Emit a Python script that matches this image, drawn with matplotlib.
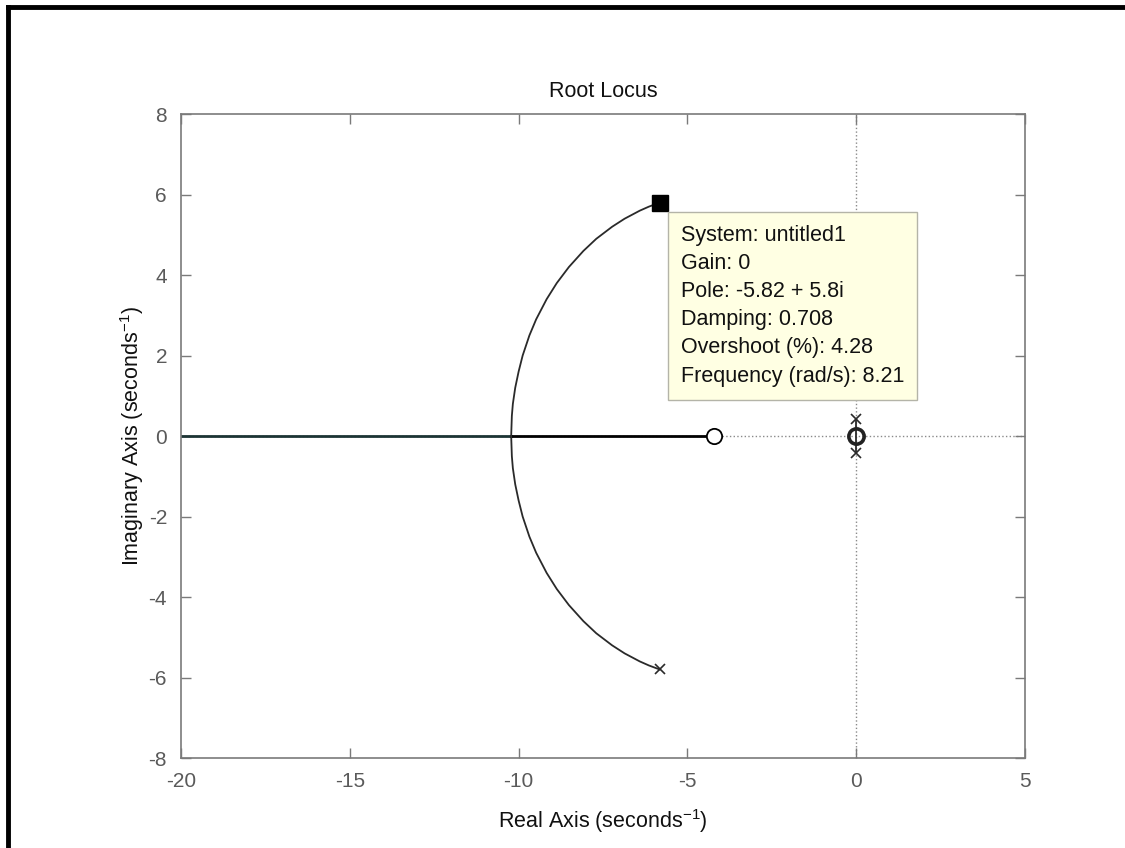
import numpy as np
import matplotlib
matplotlib.use("Agg")
from matplotlib import pyplot as plt
from matplotlib.lines import Line2D

plt.rcParams['font.family'] = ['Liberation Sans', 'DejaVu Sans']
plt.rcParams['mathtext.fontset'] = 'custom'
plt.rcParams['mathtext.rm'] = 'Liberation Sans'
plt.rcParams['mathtext.default'] = 'regular'
plt.rcParams['axes.unicode_minus'] = False

# Upper branch of the complex locus (real, imag)
arcRe = [-5.82, -6.14, -6.41, -6.86, -7.23, -7.70, -8.08, -8.51, -8.87,
         -9.17, -9.48, -9.68, -9.88, -10.00, -10.10, -10.17, -10.20, -10.22]
arcIm = [5.8, 5.7, 5.6, 5.4, 5.2, 4.9, 4.6, 4.2, 3.8,
         3.4, 2.9, 2.5, 2.0, 1.6, 1.2, 0.8, 0.5, 0.0]
# lower branch is the mirror image
arcImLow = [-v for v in arcIm]

breakaway = -10.22
zeroA = -4.2             # zero on real axis
polesA = (-5.82, 5.8)    # complex pole pair
polesB = (0.0, 0.42)     # pole pair near the origin
zeroB = 0.0

tipLines = ["System: untitled1",
            "Gain: 0",
            "Pole: -5.82 + 5.8i",
            "Damping: 0.708",
            "Overshoot (%): 4.28",
            "Frequency (rad/s): 8.21"]

xLim = (-20, 5)
yLim = (-8, 8)

fig = plt.figure(figsize=(11.25, 8.48), dpi=100)
ax = fig.add_axes([0.1609, 0.1061, 0.7502, 0.7594])

# dotted axis lines (drawn first, under the locus)
ax.plot(xLim, [0, 0], ls=':', color='#8a8a8a', lw=1.0, zorder=1)
ax.plot([0, 0], yLim, ls=':', color='#8a8a8a', lw=1.0, zorder=1)

# real axis branches
ax.plot([xLim[0], breakaway], [0, 0], color='#1c3434', lw=2.0, zorder=2)
ax.plot([breakaway, zeroA], [0, 0], color='black', lw=2.0, zorder=2)

# complex branches
ax.plot(arcRe, arcIm, color='#2a2a2a', lw=1.3, zorder=3)
ax.plot(arcRe, arcImLow, color='#2a2a2a', lw=1.3, zorder=3)

# small branch near origin
ax.plot([0, 0], [-polesB[1], polesB[1]], color='#2a2a2a', lw=1.3, zorder=3)

# markers
ax.plot([polesA[0]], [-polesA[1]], ls='none', marker='x', ms=7, mew=1.2,
        color='#2a2a2a', zorder=4)
ax.plot([polesB[0], polesB[0]], [polesB[1], -polesB[1]], ls='none', marker='x',
        ms=7, mew=1.2, color='#2a2a2a', zorder=4)
ax.plot([zeroA], [0], ls='none', marker='o', ms=11, mew=1.3, mfc='white',
        mec='black', zorder=5)
ax.plot([zeroB], [0], ls='none', marker='o', ms=11, mew=2.6, mfc='none',
        mec='#222222', zorder=5)
ax.plot([polesA[0]], [polesA[1]], ls='none', marker='s', ms=11, color='black',
        zorder=6)

# data tip
ax.annotate("\n".join(tipLines), xy=polesA, xytext=(21, -22),
            textcoords='offset pixels', ha='left', va='top', fontsize=15.5,
            linespacing=1.45, color='#111111', zorder=7,
            bbox=dict(boxstyle='square,pad=0.6', fc='#ffffe3', ec='#b4b4a8',
                      lw=1.0))

ax.set_xlim(xLim)
ax.set_ylim(yLim)
ax.set_xticks(np.arange(-20, 6, 5))
ax.set_yticks(np.arange(-8, 9, 2))
ax.tick_params(direction='in', length=7, width=1, top=True, right=True,
               labelsize=15, labelcolor='#5a5a5a', color='#7a7a7a', pad=10)
for sp in ax.spines.values():
    sp.set_color('#7a7a7a')
    sp.set_linewidth(1.2)

ax.set_title("Root Locus", fontsize=15.5, pad=12, color='#111111')
ax.set_xlabel("Real Axis (seconds$^{-1}$)", fontsize=15.5, labelpad=12,
              color='#111111')
ax.set_ylabel("Imaginary Axis (seconds$^{-1}$)", fontsize=15.5, labelpad=2,
              color='#111111')

# frame lines at top and left of the screenshot
fig.add_artist(Line2D([0.0075, 1.0], [0.9915, 0.9915], color='black', lw=3.5))
fig.add_artist(Line2D([0.0075, 0.0075], [0.0, 0.9915], color='black', lw=3.5))

plt.savefig("out.png", dpi=100)
plt.close('all')
